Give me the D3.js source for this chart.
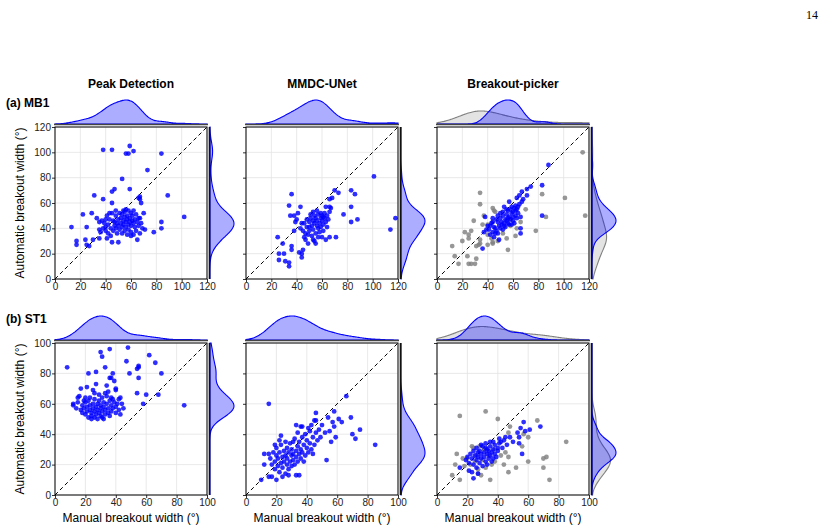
<!DOCTYPE html>
<html>
<head>
<meta charset="utf-8">
<script src="https://cdn.jsdelivr.net/npm/d3@7"></script>
<style>
  body { margin: 0; background: #fff; }
  svg { display: block; font-family: "Liberation Sans", Arial, sans-serif; }
</style>
</head>
<body>
<div id="chart"></div>
<script>
// method titles and dataset rows
var methods = ["Peak Detection", "MMDC-UNet", "Breakout-picker"];
var rowLabels = ["(a) MB1", "(b) ST1"];
var rowMax = [120, 100];
var rowTicks = [[0, 20, 40, 60, 80, 100, 120], [0, 20, 40, 60, 80, 100]];

// [manual, automatic] widths
var pdMB1 = [[13,41],[17,30],[17,27],[22,51],[25,41],[24,31],[25,27],[27,26],[29,52],[31,66],[30,31],[33,48],[35,45],[35,39],[35,32],[38,63],[38,102],[41,50],[40,41],[41,32],[45,60],[45,102],[45,69],[47,71],[45,52],[45,29],[46,46],[47,42],[50,29],[49,44],[53,79],[54,54],[56,99],[58,99],[59,105],[62,101],[59,71],[84,99],[73,86],[67,65],[68,60],[89,66],[102,49],[84,45],[84,40],[78,37],[71,39],[70,52],[67,48],
  [36,37],[38,40],[39,44],[40,38],[42,43],[42,36],[43,47],[44,40],[44,34],[46,38],[47,45],[48,40],[48,50],[49,36],[50,42],[50,47],[51,39],[51,52],[52,44],[52,48],[53,41],[53,36],[53,51],[54,46],[54,43],[55,49],[55,38],[55,53],[56,45],[56,41],[57,50],[57,47],[57,35],[58,43],[58,54],[58,39],[59,48],[59,45],[60,52],[60,42],[60,37],[61,50],[61,46],[62,44],[62,54],[62,35],[63,47],[63,41],[64,51],[64,38],[65,45],[65,31],[66,42],[66,48],[67,63],[67,36],[68,44],[66,64],[69,40],[60,34],[56,55],[48,54],[43,52],[40,47],[37,46]];

var mmMB1 = [[101,81],[83,70],[86,67],[83,57],[83,45],[88,47],[77,51],[114,39],[118,48],[70,70],[73,68],[66,63],[68,64],[66,57],[67,56],[71,33],[36,67],[34,58],[43,57],[35,50],[38,50],[41,52],[39,45],[38,38],[44,44],[25,33],[29,28],[26,20],[26,15],[30,20],[31,14],[34,13],[34,10],[36,26],[36,23],[42,21],[44,20],[44,17],[45,23],[47,36],[48,41],[49,28],[51,51],[53,53],[56,54],[59,48],[61,49],[63,57],[60,33],[63,31],[66,33],[55,28],[53,31],[50,41],
  [45,38],[46,44],[47,31],[48,47],[49,35],[50,45],[50,38],[51,48],[52,42],[52,34],[53,46],[53,39],[54,50],[54,44],[55,36],[55,48],[56,42],[56,46],[57,40],[57,51],[58,44],[58,37],[59,52],[59,41],[60,46],[60,50],[61,43],[61,38],[62,48],[62,52],[63,45],[64,50],[64,41],[65,47],[66,53],[57,33],[54,30],[46,33],[43,40],[40,47]];

var bpMB1 = [[88,90],[83,74],[83,50],[74,73],[71,71],[67,69],[65,66],[63,64],[71,66],[57,61],[62,58],[67,61],[53,57],[50,52],[56,54],[59,52],[62,50],[66,49],[38,49],[44,48],[48,45],[51,43],[54,47],[57,49],[59,43],[54,41],[50,40],[45,41],[41,39],[37,37],[36,24],[44,37],[45,33],[49,31],[66,40],[66,36],[48,36],
  [42,42],[43,44],[46,40],[47,47],[49,42],[50,48],[51,45],[52,50],[53,44],[55,46],[55,51],[56,48],[58,55],[58,47],[60,53],[60,46],[61,56],[62,54],[63,48],[64,57],[46,36],[52,39],[57,43],[61,44],[64,52],[68,63],[65,59],[59,57],[55,55],[52,53],[48,50],[44,45],[40,42],[39,39],[42,35],[47,38],[53,42],[56,44],[60,49],[63,55]];

var bpMB1Gray = [[115,100],[117,50],[101,64],[83,67],[86,49],[78,38],[34,68],[34,59],[44,56],[45,54],[37,50],[29,46],[36,43],[22,37],[25,35],[25,32],[34,31],[34,28],[43,32],[44,29],[44,28],[55,32],[56,23],[62,34],[12,26],[14,18],[17,12],[24,18],[25,12],[27,12],[30,12],[31,16],[33,27],[31,26],[40,27],[58,47],[58,42],[66,45],[46,53],[40,43],[27,38],[20,30],[52,36],[48,30],[63,40],[70,55],[40,35]];

var pdST1 = [[8,84],[22,80],[27,81],[30,94],[31,91],[33,84],[36,77],[37,77],[36,96],[38,80],[39,75],[48,97],[47,88],[55,84],[54,83],[55,85],[49,80],[55,77],[62,92],[66,87],[70,80],[54,67],[60,66],[68,66],[58,60],[85,59],[17,70],[21,71],[25,69],[27,73],[34,72],[40,70],[40,69],[16,65],[15,64],[19,62],[20,61],
  [12,60],[12,59],[14,57],[15,61],[17,56],[18,59],[18,54],[19,57],[20,53],[21,58],[21,55],[22,51],[22,62],[23,56],[23,59],[24,54],[24,52],[25,57],[25,60],[26,55],[26,51],[26,63],[27,58],[27,53],[28,56],[28,60],[28,50],[29,54],[29,62],[30,57],[30,52],[30,59],[31,55],[31,51],[32,61],[32,58],[33,53],[33,56],[34,60],[34,65],[35,54],[35,57],[36,62],[36,52],[37,59],[37,55],[38,63],[38,57],[39,61],[40,58],[40,54],[41,60],[42,63],[42,56],[43,53],[43,64],[44,60],[45,57],[20,64],[23,64],[31,64],[29,66],[33,67],[37,64],[26,67],[35,68],[24,50],[32,50]];

var mmST1 = [[15,60],[66,65],[69,51],[75,43],[70,40],[72,37],[85,33],[61,50],[58,55],[58,45],[59,38],[56,35],[53,23],[46,54],[45,49],[48,43],[49,38],[36,45],[37,45],[33,46],[12,27],[15,27],[10,10],[12,20],[15,12],[17,12],[20,10],[33,13],[35,13],[22,36],
  [16,24],[17,20],[18,28],[19,22],[19,17],[20,26],[20,31],[21,19],[21,24],[22,28],[22,15],[23,21],[23,33],[24,25],[24,18],[25,29],[25,22],[26,14],[26,26],[27,31],[27,20],[27,24],[28,17],[28,28],[29,22],[29,34],[30,26],[30,19],[30,30],[31,23],[31,27],[32,37],[32,20],[33,29],[33,25],[34,32],[34,22],[35,27],[35,35],[36,30],[36,24],[37,38],[37,28],[38,33],[39,26],[39,40],[40,31],[40,36],[41,28],[42,42],[42,34],[43,30],[44,38],[45,33],[46,41],[47,36],[44,27],[38,22],[24,12],[28,13],[31,35],[26,35],[19,33],[23,39],[34,41],[41,44],[43,46],[46,49],[50,46],[52,41],[55,42],[57,48],[63,48],[54,51]];

var bpST1 = [[68,45],[61,43],[57,48],[53,41],[54,38],[54,34],[56,27],[48,38],[41,37],[41,34],[43,31],[46,33],[37,35],[32,31],[27,28],[19,23],[15,18],[24,11],[21,16],
  [20,25],[21,21],[22,27],[23,24],[24,20],[24,29],[25,26],[26,23],[26,31],[27,25],[28,21],[28,29],[29,27],[29,24],[30,32],[30,19],[31,28],[31,25],[32,22],[32,34],[33,27],[33,30],[34,24],[34,29],[35,32],[35,26],[36,28],[36,22],[37,30],[38,27],[38,33],[39,25],[40,31],[40,29],[42,35],[44,36],[35,35],[29,33],[26,18],[23,15],[27,14],[33,20],[37,24],[45,38],[50,35],[55,44],[58,42]];

var bpST1Gray = [[15,52],[32,55],[40,50],[66,49],[47,41],[57,40],[60,38],[85,35],[72,25],[70,24],[60,22],[52,18],[47,15],[74,10],[70,18],[13,27],[12,20],[10,13],[15,10],[35,10],[29,13],[27,14],[24,31],[23,32],[45,28],[47,25],[36,20],[32,18],[18,19],[20,24],[22,20],[26,26],[28,32],[30,23],[34,26],[38,30],[42,26],[25,22],[31,30],[38,22],[44,20],[27,17],[17,24],[48,45],[56,32]];

// panels: [row][col] -> list of groups
var panels = [
  [[{pts: pdMB1, color: "blue"}], [{pts: mmMB1, color: "blue"}], [{pts: bpMB1Gray, color: "gray"}, {pts: bpMB1, color: "blue"}]],
  [[{pts: pdST1, color: "blue"}], [{pts: mmST1, color: "blue"}], [{pts: bpST1Gray, color: "gray"}, {pts: bpST1, color: "blue"}]]
];

var colors = {
  blue: {point: "#0000ff", fill: "rgba(0,0,255,0.32)", line: "#0000ff"},
  gray: {point: "#808080", fill: "rgba(128,128,128,0.22)", line: "#808080"}
};

var W = 831, H = 529;
var colX = [55, 246, 437], rowY = [127, 343], size = 152;

var svg = d3.select("#chart").append("svg")
    .attr("width", W)
    .attr("height", H);

// page number
svg.append("text")
    .attr("x", 818).attr("y", 19)
    .attr("text-anchor", "end")
    .style("font-family", "'Liberation Serif', 'DejaVu Serif', serif")
    .style("font-size", "12px")
    .text("14");

// gaussian kde, scott's rule
function kde(values, grid) {
  var n = values.length;
  var sd = d3.deviation(values);
  var bw = sd * Math.pow(n, -1 / 5);
  return grid.map(function(g) {
    var s = 0;
    values.forEach(function(v) {
      var z = (g - v) / bw;
      s += Math.exp(-0.5 * z * z);
    });
    return [g, s / (n * bw * Math.sqrt(2 * Math.PI))];
  });
}

methods.forEach(function(m, c) {
  svg.append("text")
      .attr("x", colX[c] + size / 2).attr("y", 88)
      .attr("text-anchor", "middle")
      .style("font-size", "12px")
      .style("font-weight", "bold")
      .text(m);
});

rowLabels.forEach(function(lab, r) {
  svg.append("text")
      .attr("x", 6).attr("y", rowY[r] - 20)
      .style("font-size", "12px")
      .style("font-weight", "bold")
      .text(lab);

  svg.append("text")
      .attr("transform", "translate(24," + (rowY[r] + size / 2) + ") rotate(-90)")
      .attr("text-anchor", "middle")
      .style("font-size", "12px")
      .text("Automatic breakout width (°)");
});

panels.forEach(function(row, r) {
  row.forEach(function(groups, c) {
    var max = rowMax[r];
    var ticks = rowTicks[r];
    var x = d3.scaleLinear().domain([0, max]).range([0, size]);
    var y = d3.scaleLinear().domain([0, max]).range([size, 0]);

    var g = svg.append("g")
        .attr("transform", "translate(" + colX[c] + "," + rowY[r] + ")");

    // grid
    g.append("g").selectAll("line.vx")
        .data(ticks).enter().append("line")
        .attr("x1", x).attr("x2", x).attr("y1", 0).attr("y2", size)
        .attr("stroke", "#e3e3e3").attr("stroke-width", 0.8);
    g.append("g").selectAll("line.hy")
        .data(ticks).enter().append("line")
        .attr("y1", y).attr("y2", y).attr("x1", 0).attr("x2", size)
        .attr("stroke", "#e3e3e3").attr("stroke-width", 0.8);

    // 1:1 line
    g.append("line")
        .attr("x1", x(0)).attr("y1", y(0)).attr("x2", x(max)).attr("y2", y(max))
        .attr("stroke", "#000").attr("stroke-width", 1)
        .attr("stroke-dasharray", "4,3");

    // points
    groups.forEach(function(grp) {
      g.append("g").selectAll("circle")
          .data(grp.pts).enter().append("circle")
          .attr("cx", function(d) { return x(d[0]); })
          .attr("cy", function(d) { return y(d[1]); })
          .attr("r", 2.4)
          .attr("fill", colors[grp.color].point)
          .attr("fill-opacity", 0.82);
    });

    // axes
    var xAxis = g.append("g")
        .attr("transform", "translate(0," + size + ")")
        .call(d3.axisBottom(x).tickValues(ticks).tickSize(3).tickPadding(1).tickSizeOuter(0));
    var yAxis = g.append("g")
        .call(d3.axisLeft(y).tickValues(ticks).tickSize(3).tickPadding(1).tickSizeOuter(0)
          .tickFormat(c === 0 ? d3.format("d") : ""));
    [xAxis, yAxis].forEach(function(a) {
      a.select(".domain").remove();
      a.selectAll("text").style("font-size", "10px").style("font-family", "'Liberation Sans', Arial, sans-serif").attr("fill", "#222");
      a.selectAll("line").attr("stroke", "#333");
    });

    // frame
    g.append("rect")
        .attr("width", size).attr("height", size)
        .attr("fill", "none").attr("stroke", "#000").attr("stroke-width", 1);

    if (r === 1) {
      svg.append("text")
          .attr("x", colX[c] + size / 2).attr("y", 522)
          .attr("text-anchor", "middle")
          .style("font-size", "12px")
          .text("Manual breakout width (°)");
    }

    // marginal densities
    var grid = d3.range(0, max + 0.01, max / 150);
    var topD = groups.map(function(grp) { return kde(grp.pts.map(function(d) { return d[0]; }), grid); });
    var rightD = groups.map(function(grp) { return kde(grp.pts.map(function(d) { return d[1]; }), grid); });
    var topMax = d3.max(topD, function(s) { return d3.max(s, function(d) { return d[1]; }); });
    var rightMax = d3.max(rightD, function(s) { return d3.max(s, function(d) { return d[1]; }); });
    var hTop = d3.scaleLinear().domain([0, topMax]).range([0, 24]);
    var hRight = d3.scaleLinear().domain([0, rightMax]).range([0, 24]);

    var top = g.append("g").attr("transform", "translate(0,-3)");
    var right = g.append("g").attr("transform", "translate(" + (size + 3) + ",0)");

    var areaTop = d3.area()
        .x(function(d) { return x(d[0]); })
        .y0(0)
        .y1(function(d) { return -hTop(d[1]); })
        .curve(d3.curveBasis);
    var areaRight = d3.area()
        .y(function(d) { return y(d[0]); })
        .x0(0)
        .x1(function(d) { return hRight(d[1]); })
        .curve(d3.curveBasis);

    groups.forEach(function(grp, i) {
      var col = colors[grp.color];
      top.append("path").datum(topD[i])
          .attr("d", areaTop)
          .attr("fill", col.fill).attr("stroke", col.line).attr("stroke-width", 1.1);
      right.append("path").datum(rightD[i])
          .attr("d", areaRight)
          .attr("fill", col.fill).attr("stroke", col.line).attr("stroke-width", 1.1);
    });

    top.append("line")
        .attr("x1", -1).attr("x2", size + 1).attr("y1", 0.5).attr("y2", 0.5)
        .attr("stroke", "#444").attr("stroke-width", 1.6);
    right.append("line")
        .attr("x1", -0.5).attr("x2", -0.5).attr("y1", 0).attr("y2", size)
        .attr("stroke", "#111").attr("stroke-width", 1.6);
  });
});
</script>
</body>
</html>
